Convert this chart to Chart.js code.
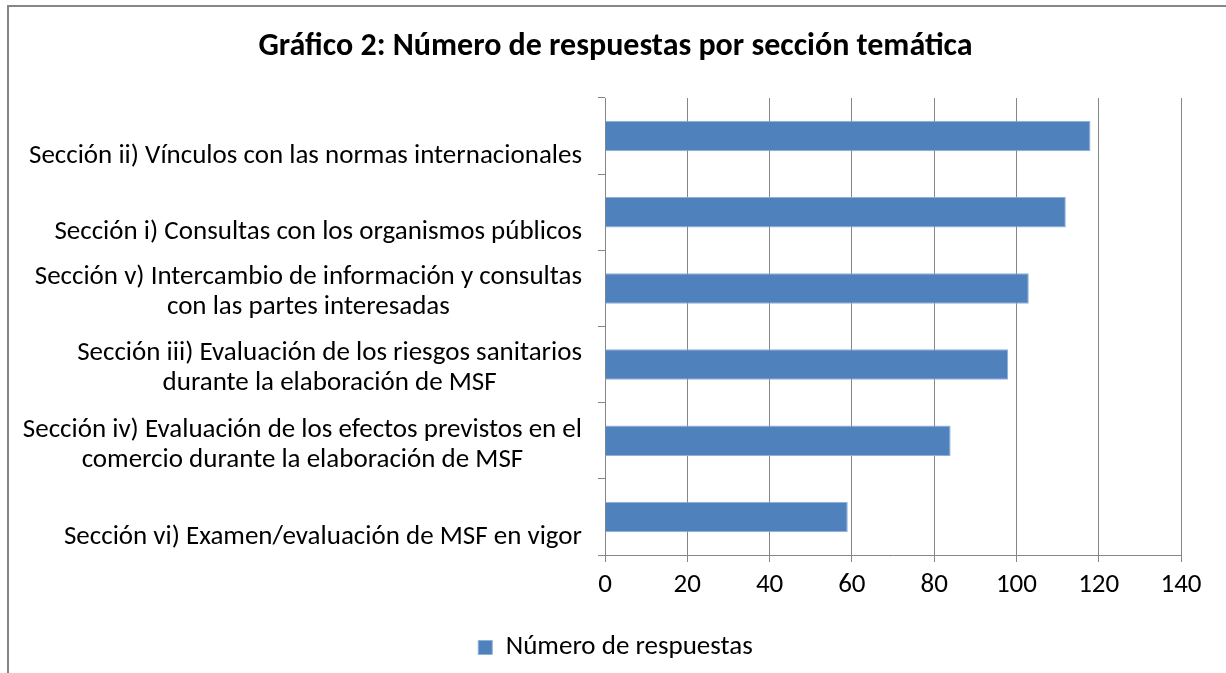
<!DOCTYPE html>
<html>
<head>
<meta charset="utf-8">
<script src="https://cdn.jsdelivr.net/npm/chart.js@4/dist/chart.umd.min.js"></script>
<style>
  html, body { margin: 0; padding: 0; background: #fff; }
  #wrap { width: 1226px; height: 673px; position: relative; }
</style>
</head>
<body>
<div id="wrap"><canvas id="c" width="1226" height="673"></canvas></div>
<script>
const categories = [
  ['Sección ii) Vínculos con las normas internacionales'],
  ['Sección i) Consultas con los organismos públicos'],
  ['Sección v) Intercambio de información y consultas', 'con las partes interesadas'],
  ['Sección iii) Evaluación de los riesgos sanitarios', 'durante la elaboración de MSF'],
  ['Sección iv) Evaluación de los efectos previstos en el', 'comercio durante la elaboración de MSF'],
  ['Sección vi) Examen/evaluación de MSF en vigor']
];
const values = [118, 112, 103, 98, 84, 59];
const seriesName = 'Número de respuestas';
const titleText = 'Gráfico 2: Número de respuestas por sección temática';
const xMin = 0, xMax = 140, xStep = 20;

const FONT = "Carlito, Lato, 'Open Sans', sans-serif";
const GRID = '#868686';

const frame = {
  id: 'frame',
  beforeDraw(chart) {
    const ctx = chart.ctx;
    ctx.save();
    ctx.fillStyle = '#fff';
    ctx.fillRect(0, 0, chart.width, chart.height);
    ctx.strokeStyle = GRID;
    ctx.lineWidth = 2;
    ctx.strokeRect(8, 6, 1400, 900);
    ctx.restore();
  }
};

const catLabels = {
  id: 'catLabels',
  afterDraw(chart) {
    const ctx = chart.ctx;
    const ys = chart.scales.y;
    ctx.save();
    ctx.font = '27px ' + FONT;
    ctx.fillStyle = '#000';
    ctx.textAlign = 'center';
    ctx.textBaseline = 'middle';
    const right = ys.right - 23;
    const lh = 30;
    categories.forEach((lines, i) => {
      const y = ys.getPixelForValue(i);
      const w = Math.max(...lines.map(l => ctx.measureText(l).width));
      const cx = right - w / 2;
      const shift = lines.length === 1 ? 20 : 4;
      const top = y + shift - (lines.length - 1) * lh / 2;
      lines.forEach((l, k) => ctx.fillText(l, cx, top + k * lh));
    });
    ctx.restore();
  }
};

new Chart(document.getElementById('c'), {
  type: 'bar',
  data: {
    labels: categories,
    datasets: [{
      label: seriesName,
      data: values,
      backgroundColor: '#4F81BD',
      borderColor: '#8FAFD6',
      borderWidth: 1,
      barPercentage: 0.4,
      categoryPercentage: 1.0
    }]
  },
  options: {
    indexAxis: 'y',
    responsive: false,
    animation: false,
    layout: { padding: { left: 50, right: 45, top: 0, bottom: 2 } },
    plugins: {
      title: {
        display: true,
        text: titleText,
        color: '#000',
        font: { family: FONT, size: 32, weight: 'bold', lineHeight: 1.2 },
        padding: { top: 28, bottom: 31.6 }
      },
      legend: {
        position: 'bottom',
        labels: {
          color: '#000',
          boxWidth: 14,
          boxHeight: 14,
          padding: 10,
          font: { family: FONT, size: 27 }
        }
      },
      tooltip: { enabled: false }
    },
    scales: {
      x: {
        min: xMin,
        max: xMax,
        ticks: { stepSize: xStep, color: '#000', font: { family: FONT, size: 27 }, padding: 7 },
        grid: { color: GRID, lineWidth: 1, tickLength: 7, drawTicks: true },
        border: { color: GRID, width: 1 },
        afterFit(s) { s.height = 69; }
      },
      y: {
        ticks: { display: false },
        grid: { offset: true, drawOnChartArea: false, color: GRID, tickLength: 7, drawTicks: true },
        border: { color: GRID, width: 1 },
        afterFit(s) { s.width = 555; }
      }
    }
  },
  plugins: [frame, catLabels]
});
</script>
</body>
</html>
